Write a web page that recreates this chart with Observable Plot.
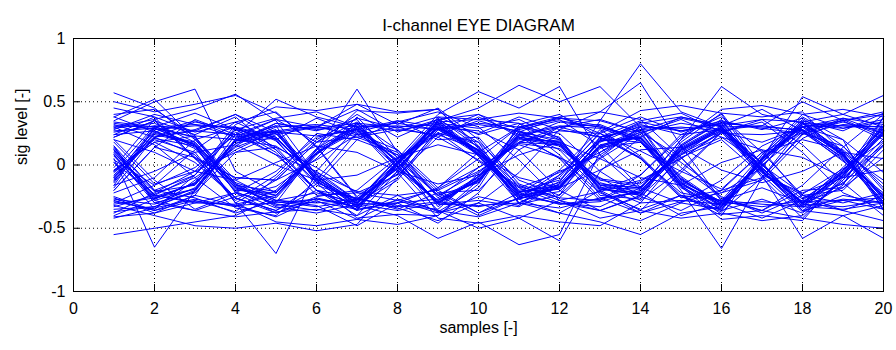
<!DOCTYPE html>
<html>
<head>
<meta charset="utf-8">
<script src="https://cdn.jsdelivr.net/npm/d3@7"></script>
<script src="https://cdn.jsdelivr.net/npm/@observablehq/plot@0.6"></script>
<style>
  html, body { margin: 0; padding: 0; background: #fff; }
</style>
</head>
<body>
<div id="chart"></div>
<script>
const titleText = "I-channel EYE DIAGRAM";
const xLabel = "samples [-]";
const yLabel = "sig level [-]";
const xTicks = [0, 2, 4, 6, 8, 10, 12, 14, 16, 18, 20];
const yTicks = [-1, -0.5, 0, 0.5, 1];
const yTickLabels = ["-1", "-0.5", "0", "0.5", "1"];
const samples = [1, 2, 3, 4, 5, 6, 7, 8, 9, 10, 11, 12, 13, 14, 15, 16, 17, 18, 19, 20];

const traces = [
  [0.12,-0.25,-0.15,0.19,0.33,0.28,0.31,0.02,-0.29,-0.33,-0.27,-0.18,0.15,0.22,-0.11,-0.32,0.05,0.28,0.09,-0.25],
  [-0.35,-0.33,-0.20,0.19,0.27,-0.12,-0.36,0.01,0.34,0.36,0.33,0.20,-0.19,-0.24,0.15,0.35,-0.04,-0.34,-0.08,0.31],
  [0.27,0.29,0.16,-0.15,-0.28,-0.30,-0.27,-0.03,0.29,0.09,-0.21,-0.16,0.15,0.28,0.30,0.27,-0.03,-0.29,-0.28,-0.26],
  [-0.11,0.25,0.18,-0.18,-0.24,0.10,0.33,0.02,-0.31,-0.32,-0.30,-0.17,0.19,0.21,-0.14,-0.32,0.02,0.33,0.31,0.30],
  [0.31,0.30,0.32,0.29,0.22,-0.09,-0.30,0.01,0.30,0.11,-0.22,-0.31,-0.29,-0.20,0.12,0.29,-0.02,-0.31,-0.06,0.27],
  [-0.55,-0.50,-0.45,-0.40,-0.25,0.09,0.31,-0.01,-0.30,-0.10,0.23,0.30,0.32,0.19,-0.13,-0.29,0.04,0.30,0.07,-0.26],
  [0.10,-0.26,-0.19,0.19,0.25,-0.11,-0.33,0.00,0.33,0.11,-0.25,-0.18,0.19,0.22,-0.14,-0.33,0.04,0.33,0.07,-0.29],
  [-0.09,0.21,0.15,-0.16,-0.21,0.09,0.27,-0.02,-0.28,-0.09,0.21,0.15,-0.15,-0.18,0.12,0.27,-0.03,-0.27,-0.06,0.24],
  [0.34,0.30,0.41,0.28,0.37,0.42,0.30,0.06,-0.38,-0.30,-0.42,-0.28,-0.36,-0.44,-0.30,-0.35,0.08,0.40,0.29,0.36],
  [-0.28,-0.36,-0.24,-0.32,-0.41,-0.26,-0.33,-0.05,0.32,0.25,0.38,0.28,0.22,0.35,0.41,0.26,-0.08,-0.37,-0.24,-0.30],
  [0.14,-0.28,-0.36,-0.25,-0.17,0.05,0.38,0.06,-0.24,-0.14,0.27,0.12,-0.21,-0.38,-0.29,-0.22,-0.02,0.35,0.27,0.41],
  [-0.05,0.31,0.27,0.40,0.20,-0.16,-0.27,-0.07,0.36,0.07,-0.30,-0.13,0.22,0.28,0.37,0.30,0.01,-0.36,-0.28,-0.35],
  [0.35,0.50,0.60,-0.05,-0.22,0.12,0.29,0.03,-0.31,-0.28,-0.33,-0.15,0.18,0.31,0.27,0.33,0.30,0.28,0.05,-0.24],
  [0.05,-0.65,-0.20,0.17,0.25,-0.08,-0.31,-0.30,-0.27,-0.12,0.20,0.19,-0.16,-0.23,0.10,0.28,0.02,-0.33,-0.04,0.29],
  [-0.08,0.27,0.15,-0.30,-0.70,-0.05,0.30,0.31,0.28,0.12,-0.21,-0.19,0.14,0.18,-0.11,-0.31,-0.29,-0.32,-0.08,0.26],
  [0.12,-0.24,-0.30,-0.31,-0.24,0.12,0.60,0.10,-0.33,-0.09,0.24,0.31,0.29,0.19,-0.15,-0.30,0.05,0.31,0.08,-0.27],
  [-0.12,0.22,0.34,0.28,0.21,-0.09,-0.29,-0.02,0.31,0.10,-0.22,-0.14,0.35,0.80,0.42,0.30,-0.05,-0.30,-0.07,0.28],
  [0.29,0.33,0.18,-0.16,-0.32,-0.27,-0.31,0.01,0.29,0.33,0.30,0.38,0.42,0.65,0.15,-0.28,-0.31,-0.33,-0.27,-0.30],
  [-0.27,-0.31,-0.18,0.17,0.30,0.32,0.28,0.00,-0.31,-0.11,0.22,0.16,-0.18,-0.19,0.20,0.62,0.40,0.33,0.08,-0.25],
  [0.09,-0.21,-0.16,0.20,0.31,0.29,0.33,0.30,0.32,0.09,-0.25,-0.17,0.16,0.22,-0.20,-0.66,-0.10,0.30,0.31,0.28],
  [-0.10,0.24,0.17,-0.18,-0.29,-0.33,-0.28,-0.03,0.30,0.12,-0.23,-0.31,-0.27,-0.21,0.14,0.31,-0.08,-0.58,-0.40,-0.58],
  [0.33,0.28,0.31,0.30,0.22,-0.11,-0.30,-0.33,-0.29,-0.12,0.24,0.17,-0.17,-0.30,-0.28,-0.31,0.05,0.54,0.40,0.55],
  [-0.31,-0.26,-0.15,0.19,0.21,-0.10,-0.32,-0.40,-0.58,-0.45,-0.63,-0.55,0.10,0.30,0.29,0.32,-0.03,-0.30,-0.06,0.26],
  [0.11,-0.24,-0.29,-0.32,-0.30,-0.27,-0.33,0.02,0.35,0.45,0.63,0.50,0.62,0.30,-0.12,-0.29,0.03,0.28,0.09,-0.27],
  [0.57,0.45,0.20,-0.14,-0.24,0.09,0.30,0.33,0.28,0.08,-0.25,-0.30,-0.33,-0.18,0.13,0.30,0.31,0.27,0.06,-0.29],
  [-0.06,0.22,0.27,0.24,0.26,0.23,0.28,0.04,-0.24,-0.06,0.18,0.16,-0.12,-0.17,0.09,0.25,0.24,0.27,0.03,-0.22],
  [0.15,-0.30,-0.36,-0.41,-0.37,-0.35,-0.40,-0.05,0.38,0.36,0.41,0.37,0.35,0.26,-0.16,-0.39,-0.36,-0.42,-0.10,0.33],
  [-0.04,0.18,0.23,0.20,0.15,-0.06,-0.21,-0.24,-0.20,-0.05,0.17,0.13,-0.11,-0.15,0.08,0.22,0.00,-0.23,-0.03,0.19],
  [0.40,0.44,0.23,-0.22,-0.30,0.12,0.43,0.41,0.44,0.15,-0.31,-0.24,0.22,0.30,-0.17,-0.43,-0.40,-0.44,-0.08,0.38],
  [-0.41,-0.38,-0.24,0.21,0.31,-0.14,-0.42,-0.39,-0.40,-0.15,0.30,0.22,-0.24,-0.27,0.18,0.41,0.38,0.42,0.10,-0.35],
  [0.02,-0.23,-0.10,0.12,0.27,0.31,0.22,0.28,0.24,0.12,-0.16,-0.28,-0.21,-0.12,0.05,0.27,-0.06,-0.24,-0.30,-0.22],
  [-0.16,0.29,0.22,-0.15,-0.33,-0.38,-0.31,-0.36,-0.30,-0.09,0.29,0.37,0.31,0.19,-0.18,-0.35,0.06,0.30,0.37,0.32],
  [0.45,0.38,0.26,0.34,0.19,-0.14,-0.27,-0.32,-0.35,-0.07,0.26,0.20,-0.14,-0.22,0.15,0.34,0.29,0.25,0.32,0.30],
  [-0.42,-0.34,-0.27,-0.33,-0.20,0.13,0.32,0.27,0.34,0.07,-0.26,-0.21,0.13,0.24,-0.10,-0.33,0.00,0.26,0.04,-0.30],
  [0.18,-0.15,-0.05,0.10,0.14,-0.02,-0.22,-0.28,-0.19,-0.02,0.18,0.27,0.25,0.11,-0.05,-0.19,0.10,0.20,0.12,-0.15],
  [-0.20,0.14,0.06,-0.10,-0.12,0.04,0.24,0.30,0.22,0.04,-0.17,-0.26,-0.28,-0.13,0.06,0.20,-0.08,-0.22,-0.10,0.16],
  [0.30,0.36,0.44,0.56,0.35,-0.08,-0.34,0.03,0.37,0.14,-0.24,-0.19,0.20,0.33,0.38,0.31,0.36,0.34,0.09,-0.31],
  [-0.37,-0.33,-0.21,0.20,0.28,-0.12,-0.36,0.00,0.35,0.11,-0.27,-0.38,-0.45,-0.55,-0.38,-0.33,0.04,0.36,0.07,-0.32],
  [0.08,-0.28,-0.19,0.24,0.52,0.38,0.30,0.02,-0.30,-0.12,0.25,0.16,-0.19,-0.22,0.13,0.30,0.01,-0.31,-0.05,0.30],
  [-0.14,0.26,0.35,0.22,0.27,-0.07,-0.28,0.05,0.29,0.15,-0.20,-0.12,0.21,0.18,-0.17,-0.34,-0.01,0.33,0.11,-0.24],
  [0.07,-0.27,-0.14,0.15,0.33,0.27,0.36,-0.04,-0.28,-0.13,0.21,0.34,0.30,0.20,-0.16,-0.29,-0.33,-0.28,-0.04,0.29],
  [-0.13,0.29,0.16,-0.21,-0.34,-0.29,-0.35,0.03,0.32,0.08,-0.27,-0.15,0.19,0.34,0.27,0.33,-0.06,-0.29,-0.09,0.25],
  [0.26,0.31,0.14,-0.19,-0.26,0.08,0.33,-0.02,-0.36,-0.50,-0.42,-0.60,-0.05,0.22,-0.09,-0.31,0.02,0.32,0.29,0.34],
  [-0.29,-0.35,-0.12,0.14,0.26,-0.13,-0.30,0.05,0.40,0.58,0.45,0.62,0.08,-0.20,0.11,0.29,-0.02,-0.31,-0.33,-0.28],
  [0.38,0.52,0.21,-0.17,-0.31,-0.36,-0.27,0.02,0.33,0.29,0.36,0.21,-0.16,-0.18,0.20,0.44,0.47,0.40,0.44,0.38],
  [-0.05,0.20,0.10,-0.30,-0.45,-0.48,-0.43,-0.47,-0.40,-0.12,0.22,0.18,-0.20,-0.36,-0.42,-0.38,-0.44,-0.40,-0.12,0.27],
  [0.13,-0.20,-0.08,0.32,0.46,0.43,0.48,0.42,0.44,0.13,-0.24,-0.10,0.26,0.43,0.47,0.41,0.00,-0.30,-0.02,0.31],
  [0.24,0.27,0.13,-0.20,-0.22,0.10,0.28,-0.06,-0.42,-0.46,-0.40,-0.45,-0.48,-0.30,0.08,0.30,-0.10,-0.42,-0.47,-0.50],
  [0.50,0.42,0.48,0.55,0.41,0.15,-0.25,-0.02,0.30,0.09,-0.21,-0.17,0.14,0.26,0.33,0.28,0.31,0.50,0.35,0.40],
  [-0.32,-0.40,-0.48,-0.50,-0.46,-0.52,-0.47,-0.10,0.28,0.32,0.27,0.18,-0.18,-0.24,0.12,0.29,0.01,-0.33,-0.35,-0.30],
  [0.22,0.35,0.05,-0.26,-0.36,-0.15,0.20,0.35,0.30,0.27,0.12,-0.20,-0.36,-0.25,0.05,0.26,0.34,0.10,-0.22,-0.35],
  [-0.22,-0.10,0.20,0.30,0.12,-0.20,-0.35,-0.30,-0.18,0.10,0.30,0.36,0.15,-0.18,-0.30,-0.12,0.15,0.30,0.35,0.20],
  [0.24,0.38,0.05,-0.10,-0.12,0.18,0.22,0.10,-0.20,-0.38,-0.26,-0.05,0.08,0.28,0.02,-0.22,-0.12,0.21,0.36,0.22],
  [-0.38,-0.22,-0.05,0.28,0.20,0.37,0.25,0.12,-0.18,0.05,0.30,0.25,-0.05,-0.25,-0.36,-0.20,-0.10,0.25,0.15,-0.18],
  [0.20,-0.12,-0.35,-0.22,-0.05,0.22,0.28,0.35,0.20,0.22,-0.15,-0.26,0.05,0.25,0.36,0.22,0.12,-0.26,-0.15,0.18],
  [-0.20,0.14,0.36,0.24,0.08,-0.20,-0.26,-0.35,-0.22,-0.20,0.12,0.30,0.22,0.05,-0.22,-0.28,-0.36,-0.20,-0.18,0.16],
  [0.22,0.35,0.24,0.38,0.12,-0.20,-0.36,-0.28,-0.38,-0.25,-0.32,-0.08,0.25,0.38,0.26,0.35,0.28,0.37,0.15,-0.20],
  [-0.25,-0.36,-0.28,-0.37,-0.10,0.20,0.37,0.29,0.38,0.24,0.33,0.08,-0.26,-0.38,-0.24,-0.36,-0.27,-0.38,-0.12,0.21],
  [0.02,-0.35,-0.08,0.28,0.10,-0.24,-0.22,-0.08,0.22,0.38,0.24,0.05,-0.28,-0.08,0.24,0.38,0.10,-0.24,-0.36,-0.24],
  [-0.02,0.36,0.06,-0.28,-0.08,0.25,0.20,0.08,-0.22,-0.38,-0.22,-0.04,0.28,0.07,-0.25,-0.37,-0.10,0.24,0.37,0.25],
  [0.32,0.22,0.08,-0.26,-0.38,-0.25,-0.20,0.06,0.25,0.18,-0.12,-0.24,0.06,0.30,-0.02,-0.25,-0.38,-0.24,-0.20,0.12],
  [-0.33,-0.24,-0.08,0.26,0.08,-0.05,-0.28,0.05,0.24,0.35,0.26,0.38,0.25,0.05,-0.26,-0.20,0.10,0.26,0.34,0.25],
  [0.15,-0.20,-0.26,-0.38,-0.28,-0.22,-0.30,-0.10,0.28,0.40,0.22,0.06,-0.22,-0.35,-0.24,-0.28,0.08,0.34,0.10,-0.12],
  [-0.18,0.22,0.28,0.40,0.26,0.30,0.24,0.08,-0.24,-0.40,-0.26,-0.08,0.20,0.32,0.24,0.28,-0.06,-0.32,-0.14,0.15],
  [0.04,-0.16,-0.02,0.24,0.36,0.18,0.34,0.12,-0.26,-0.02,0.16,0.06,-0.10,-0.28,-0.04,0.26,0.18,0.30,0.20,-0.06],
  [-0.04,0.18,0.02,-0.26,-0.36,-0.20,-0.32,-0.12,0.26,0.03,-0.18,-0.06,0.10,0.26,0.06,-0.28,-0.18,-0.30,-0.18,0.06],
  [0.20,0.10,-0.05,-0.12,0.02,0.15,0.10,-0.05,-0.15,-0.08,0.08,0.18,0.05,-0.10,-0.16,0.02,0.12,0.06,-0.10,-0.04],
  [-0.16,-0.05,0.10,0.16,0.00,-0.12,-0.08,0.06,0.16,0.08,-0.10,-0.18,-0.04,0.12,0.14,-0.04,-0.14,-0.05,0.10,0.05],
  [0.28,0.40,0.32,0.22,0.36,0.30,0.44,0.26,0.36,0.40,0.28,0.35,0.30,0.22,0.38,0.31,0.44,0.27,0.35,0.42],
  [-0.26,-0.38,-0.30,-0.22,-0.38,-0.28,-0.43,-0.27,-0.36,-0.41,-0.30,-0.34,-0.26,-0.22,-0.40,-0.30,-0.42,-0.28,-0.36,-0.44],
  [0.38,0.26,0.16,-0.30,-0.12,0.18,0.40,0.22,0.36,0.18,-0.30,-0.38,-0.20,-0.08,0.22,0.40,-0.04,-0.36,-0.16,0.38],
  [-0.40,-0.27,-0.14,0.30,0.14,-0.20,-0.40,-0.24,-0.37,-0.18,0.32,0.40,0.22,0.06,-0.24,-0.40,0.06,0.38,0.20,-0.36],
  [0.08,-0.30,-0.22,0.10,0.24,0.30,0.48,0.32,0.45,0.20,-0.18,-0.30,-0.36,-0.24,0.16,0.36,-0.05,-0.36,-0.40,-0.32],
  [-0.10,0.30,0.22,-0.12,-0.28,-0.32,-0.48,-0.30,-0.46,-0.22,0.18,0.30,0.36,0.26,-0.14,-0.36,0.04,0.34,0.40,0.30],
  [0.30,0.16,-0.10,-0.34,-0.40,-0.12,0.26,0.34,0.42,0.30,0.04,-0.28,-0.42,-0.36,-0.06,0.26,0.36,0.16,-0.14,-0.40],
  [-0.30,-0.16,0.12,0.34,0.42,0.14,-0.26,-0.34,-0.44,-0.30,-0.06,0.28,0.42,0.36,0.06,-0.26,-0.36,-0.16,0.14,0.40]
];

const points = traces.flatMap((t, i) => t.map((v, j) => ({trace: i, x: samples[j], y: v})));

const W = 896, H = 350;
const mL = 73, mR = 13, mT = 38, mB = 59;
const fw = W - mL - mR, fh = H - mT - mB;
const tick = 7;
const font = "'Liberation Sans', Arial, Helvetica, sans-serif";

const chart = Plot.plot({
  width: W,
  height: H,
  marginLeft: mL,
  marginRight: mR,
  marginTop: mT,
  marginBottom: mB,
  style: {fontFamily: font, fontSize: "16px", background: "#fff", color: "#000"},
  x: {domain: [0, 20]},
  y: {domain: [-1, 1]},
  marks: [
    Plot.gridX(xTicks, {stroke: "#000", strokeOpacity: 1, strokeDasharray: "1,3"}),
    Plot.gridY(yTicks, {stroke: "#000", strokeOpacity: 1, strokeDasharray: "1,3"}),
    Plot.line(points, {x: "x", y: "y", z: "trace", stroke: "#0000ff", strokeWidth: 1, curve: "linear"}),
    Plot.frame({stroke: "#000", strokeWidth: 1}),
    Plot.ruleX(xTicks, {x: d => d, stroke: "#000", insetTop: fh - tick}),
    Plot.ruleX(xTicks, {x: d => d, stroke: "#000", insetBottom: fh - tick}),
    Plot.ruleY(yTicks, {y: d => d, stroke: "#000", insetRight: fw - tick}),
    Plot.ruleY(yTicks, {y: d => d, stroke: "#000", insetLeft: fw - tick}),
    Plot.axisX({ticks: xTicks, tickSize: 0, tickPadding: 11, fontSize: 16, label: null, tickFormat: d => String(d)}),
    Plot.axisY({ticks: yTicks, tickSize: 0, tickPadding: 8, fontSize: 16, label: null, tickFormat: (d, i) => yTickLabels[i]}),
    Plot.text([titleText], {text: d => d, frameAnchor: "top", dy: -20, fontSize: 17, fill: "#000"}),
    Plot.text([xLabel], {text: d => d, frameAnchor: "bottom", dy: 41, fontSize: 16, fill: "#000"}),
    Plot.text([yLabel], {text: d => d, frameAnchor: "left", dx: -52, rotate: -90, fontSize: 16, fill: "#000"})
  ]
});
document.getElementById("chart").appendChild(chart);
</script>
</body>
</html>
